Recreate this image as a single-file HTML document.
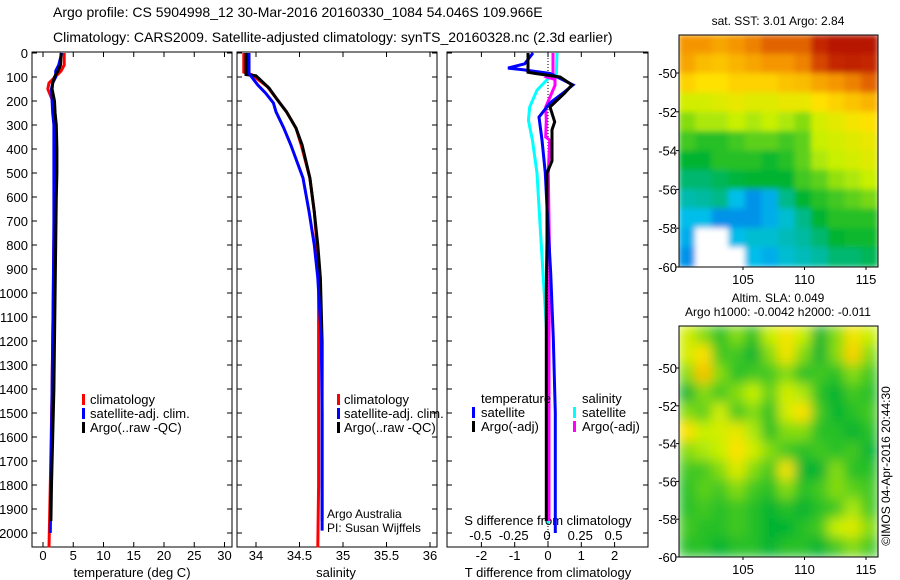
<!DOCTYPE html>
<html><head><meta charset="utf-8">
<style>
html,body{margin:0;padding:0;background:#fff;}
svg{display:block;font-family:"Liberation Sans",Arial,sans-serif;}
text{fill:#000;}
</style></head>
<body>
<svg id="chart" width="900" height="580" viewBox="0 0 900 580">
<defs>
<filter id="blurTop" x="0" y="0" width="1" height="1"><feGaussianBlur stdDeviation="3"/></filter>
<filter id="blurBot" x="0" y="0" width="1" height="1"><feGaussianBlur stdDeviation="6"/></filter>
<clipPath id="clipTop"><rect x="679" y="35" width="199" height="232"/></clipPath>
<clipPath id="clipBot"><rect x="679" y="326" width="199" height="231"/></clipPath>
</defs>
<text x="53" y="17" font-size="14">Argo profile: CS 5904998_12 30-Mar-2016 20160330_1084 54.046S 109.966E</text>
<text x="53" y="42" font-size="14">Climatology: CARS2009. Satellite-adjusted climatology: synTS_20160328.nc (2.3d earlier)</text>
<g id="layer"></g>
</svg>
<script>
// ---------- data ----------
const tDepth = [0,50,75,100,125,150,175,200,250,300,400,500,600,800,1000,1200,1400,1600,1800,1950];
const tArgo  = [3.0,2.9,2.5,1.9,1.6,1.5,1.7,1.9,2.0,2.2,2.3,2.3,2.2,2.1,2.0,1.9,1.8,1.6,1.4,1.3];
const tClimDepth = [0,50,75,100,125,150,175,200,250,300,400,600,800,1000,1400,1800,2060];
const tClim = [3.5,3.5,3.0,2.0,1.0,0.8,1.2,1.6,1.9,2.0,2.0,1.9,1.8,1.7,1.5,1.2,1.0];
const tSatDepth = [0,50,75,100,125,150,200,250,300,400,500,700,1000,1400,1800,2000];
const tSat = [3.1,2.6,2.1,2.1,1.6,1.4,1.5,1.6,1.8,1.8,1.8,1.8,1.7,1.5,1.3,1.2];

const sArgoDepth = [0,90,95,146,187,245,313,383,521,662,800,937,1200,1500,1800,1950];
const sArgo = [33.885,33.885,34.0,34.15,34.23,34.35,34.46,34.53,34.62,34.67,34.71,34.74,34.76,34.76,34.76,34.76];
const sClimDepth = [0,80,90,140,187,245,313,383,521,662,800,937,1200,1500,1800,2060];
const sClim = [33.86,33.86,33.95,34.13,34.23,34.35,34.46,34.52,34.62,34.67,34.70,34.72,34.72,34.72,34.72,34.71];
const sSatDepth = [0,85,100,133,167,208,245,313,383,521,662,800,937,1187,1500,1990];
const sSat = [33.92,33.92,33.95,34.02,34.11,34.2,34.23,34.32,34.40,34.54,34.61,34.67,34.71,34.75,34.76,34.76];

const dTsDepth = [0,45,63,70,85,133,167,208,267,363,500,642,917,1190,1500,2000];
const dTs = [-0.45,-0.7,-1.2,-0.75,0.06,0.75,0.45,0.06,-0.27,-0.18,-0.08,-0.03,0.08,0.16,0.22,0.22];
const dTaDepth = [0,80,85,100,133,167,225,287,320,363,450,500,780,1000,1500,1950];
const dTa = [-0.6,-0.6,-0.4,0.36,0.72,0.5,0.06,0.2,0.12,0.12,0.12,-0.03,-0.03,-0.05,-0.05,-0.05];
const dSsDepth = [0,90,100,155,225,280,363,500,642,780,917,1187,1500,1960];
const dSs = [0.075,0.07,0.02,-0.075,-0.13,-0.14,-0.11,-0.075,-0.06,-0.045,-0.03,0.0,0.008,0.008];
const dSaDepth = [0,85,100,110,135,200,225,280,350,363,500,900,1200,1950];
const dSa = [0.045,0.045,0.0,0.06,0.06,0.01,-0.01,-0.005,-0.01,0.02,0.01,0.02,0.015,0.015];

const depthTicks = [0,100,200,300,400,500,600,700,800,900,1000,1100,1200,1300,1400,1500,1600,1700,1800,1900,2000];
const tempTicks = [0,5,10,15,20,25,30];
const salTicks = [34,34.5,35,35.5,36];
const dTTicks = [-2,-1,0,1,2];
const dSTicks = [-0.5,-0.25,0,0.25,0.5];
const dSTickLabels = ["-0.5","-0.25","0","0.25","0.5"];
const latTicks = [-50,-52,-54,-56,-58,-60];
const lonTicks = [105,110,115];

const sstGrid = [
[.80,.80,.78,.80,.82,.85,.85,.85,.92,.95,.95,.95],
[.78,.75,.74,.76,.78,.80,.80,.82,.88,.92,.93,.92],
[.72,.70,.70,.72,.72,.72,.74,.75,.78,.80,.82,.85],
[.62,.62,.64,.66,.64,.64,.66,.66,.70,.72,.74,.76],
[.55,.58,.58,.60,.58,.60,.58,.55,.62,.65,.68,.70],
[.50,.48,.48,.50,.52,.52,.50,.52,.60,.62,.64,.66],
[.45,.45,.48,.48,.48,.46,.48,.52,.58,.60,.62,.64],
[.40,.40,.42,.44,.45,.45,.45,.50,.52,.56,.58,.60],
[.35,.36,.38,.30,.25,.28,.38,.45,.48,.50,.52,.54],
[.30,.30,.25,.25,.25,.28,.32,.38,.45,.48,.48,.48],
[.28,-1,-1,.30,.32,.32,.34,.36,.40,.45,.46,.46],
[.25,-1,-1,-1,.30,.28,.32,.34,.36,.40,.40,.42]];
const slaGrid = [
[.62,.55,.48,.55,.48,.60,.68,.60,.45,.55,.68,.60],
[.62,.70,.50,.50,.45,.55,.68,.55,.45,.55,.72,.55],
[.55,.74,.55,.48,.50,.50,.55,.48,.50,.48,.55,.50],
[.45,.55,.50,.55,.60,.52,.62,.58,.48,.45,.50,.48],
[.55,.52,.62,.50,.55,.48,.62,.70,.50,.45,.48,.50],
[.70,.60,.62,.66,.58,.48,.55,.55,.48,.48,.45,.48],
[.55,.58,.60,.70,.62,.55,.50,.48,.50,.48,.50,.45],
[.50,.50,.55,.64,.55,.50,.68,.45,.45,.55,.48,.48],
[.48,.52,.50,.55,.50,.48,.55,.48,.50,.55,.52,.50],
[.48,.50,.48,.50,.48,.45,.48,.45,.48,.50,.58,.50],
[.50,.48,.48,.50,.48,.45,.45,.48,.50,.60,.64,.55],
[.48,.48,.45,.48,.48,.45,.48,.48,.45,.50,.55,.50]];

// ---------- helpers ----------
const NS = "http://www.w3.org/2000/svg";
const layer = document.getElementById('layer');
function mk(tag, attrs, parent){ const e=document.createElementNS(NS,tag); for(const k in attrs) e.setAttribute(k,attrs[k]); (parent||layer).appendChild(e); return e; }
const yD = d => 53 + d*0.24;
const xT = t => 43 + t*6.05;
const xS = s => 256 + (s-34)*87;
const xdT = t => 548 + t*33.3;
const xdS = s => 547 + s*133;

function panel(x0,x1,name){
  const r = mk('rect',{x:x0,y:52,width:x1-x0,height:495,fill:'none',stroke:'#000','stroke-width':1});
  
  
  depthTicks.forEach(d=>{
    const y=yD(d);
    const a=mk('line',{x1:x0,x2:x0+5,y1:y,y2:y,stroke:'#000'});
    
    
    const b=mk('line',{x1:x1-5,x2:x1,y1:y,y2:y,stroke:'#000'});
    
    
  });
}
function xticks(xs, fn, labels, ylab, name){
  xs.forEach((v,i)=>{
    const x=fn(v);
    const a=mk('line',{x1:x,x2:x,y1:52,y2:57,stroke:'#000'});
    
    
    const b=mk('line',{x1:x,x2:x,y1:542,y2:547,stroke:'#000'});
    
    
    if(labels){
      const t=mk('text',{x:x,y:ylab,'font-size':13,'text-anchor':'middle'});
      t.textContent=labels[i];
      
      
    }
  });
}
function series(depths, vals, fn, color, name, w){
  const pts = depths.map((d,i)=>fn(vals[i]).toFixed(1)+','+yD(d).toFixed(1)).join(' ');
  const p = mk('polyline',{points:pts,fill:'none',stroke:color,'stroke-width':w||3,'stroke-linejoin':'miter'});
  
  
}
function label(x,y,txt,name,opts){
  const t=mk('text',Object.assign({x:x,y:y,'font-size':13},opts||{}));
  t.textContent=txt;
  
  
  return t;
}
function legMark(x,y,color,name){
  const r=mk('rect',{x:x,y:y-10,width:3,height:11,fill:color});
  
  
}

panel(32,232,'temperature-panel');
panel(237,437,'salinity-panel');
panel(447,648,'difference-panel');
depthTicks.forEach(d=>{
  label(28,yD(d)+5,String(d),'depth-tick-label',{'text-anchor':'end'});
});
xticks(tempTicks,xT,tempTicks.map(String),560,'temperature');
label(132,577,'temperature (deg C)','temperature-axis-title',{'text-anchor':'middle'});
series(tClimDepth,tClim,xT,'#ff0000','temp-climatology-line');
series(tSatDepth,tSat,xT,'#0000ff','temp-satellite-line');
series(tDepth,tArgo,xT,'#000000','temp-argo-line');
legMark(82,404,'#ff0000','legend-mark-climatology');
label(90,404,'climatology','legend-climatology');
legMark(82,418,'#0000ff','legend-mark-satellite');
label(90,418,'satellite-adj. clim.','legend-satellite');
legMark(82,432,'#000000','legend-mark-argo');
label(90,432,'Argo(..raw -QC)','legend-argo');

xticks(salTicks,xS,['34','34.5','35','35.5','36'],560,'salinity');
label(336,577,'salinity','salinity-axis-title',{'text-anchor':'middle'});
series(sClimDepth,sClim,xS,'#ff0000','sal-climatology-line');
series(sArgoDepth,sArgo,xS,'#000000','sal-argo-line');
series(sSatDepth,sSat,xS,'#0000ff','sal-satellite-line');
legMark(337,404,'#ff0000','legend-mark-climatology-2');
label(344,404,'climatology','legend-climatology-2');
legMark(337,418,'#0000ff','legend-mark-satellite-2');
label(344,418,'satellite-adj. clim.','legend-satellite-2');
legMark(337,432,'#000000','legend-mark-argo-2');
label(344,432,'Argo(..raw -QC)','legend-argo-2');
label(327,518,'Argo Australia','credit-argo-australia',{'font-size':12});
label(327,532,'PI: Susan Wijffels','credit-pi',{'font-size':12});

const zl = mk('line',{x1:548,x2:548,y1:52,y2:547,stroke:'#000','stroke-dasharray':'1,2'});


xticks(dTTicks,xdT,['-2','-1','0','1','2'],560,'t-difference');
dSTicks.forEach((v,i)=>{
  label(xdS(v),540,dSTickLabels[i],'s-difference-tick-label',{'text-anchor':'middle'});
});
label(548,525,'S difference from climatology','s-difference-axis-title',{'text-anchor':'middle'});
label(548,577,'T difference from climatology','t-difference-axis-title',{'text-anchor':'middle'});
series(dSsDepth,dSs,xdS,'#00ffff','dsal-satellite-line');
series(dSaDepth,dSa,xdS,'#ff00ff','dsal-argo-line');
series(dTsDepth,dTs,xdT,'#0000ff','dtemp-satellite-line');
series(dTaDepth,dTa,xdT,'#000000','dtemp-argo-line');
label(481,403,'temperature','legend-temperature-header');
legMark(472,417,'#0000ff','legend-mark-t-satellite');
label(481,417,'satellite','legend-t-satellite');
legMark(472,431,'#000000','legend-mark-t-argo');
label(481,431,'Argo(-adj)','legend-t-argo');
label(582,403,'salinity','legend-salinity-header');
legMark(573,417,'#00ffff','legend-mark-s-satellite');
label(582,417,'satellite','legend-s-satellite');
legMark(573,431,'#ff00ff','legend-mark-s-argo');
label(582,431,'Argo(-adj)','legend-s-argo');

const stops = [[0,[0,0,140]],[.15,[0,60,230]],[.3,[0,190,235]],[.45,[0,180,50]],[.6,[200,240,0]],[.7,[255,225,0]],[.8,[245,150,0]],[.9,[205,50,0]],[1,[160,0,0]]];
function cmap(v){
  if(v<0) return '#ffffff';
  for(let i=1;i<stops.length;i++){
    if(v<=stops[i][0]){
      const a=stops[i-1],b=stops[i],f=(v-a[0])/(b[0]-a[0]);
      const c=a[1].map((x,k)=>Math.round(x+(b[1][k]-x)*f));
      return 'rgb('+c.join(',')+')';
    }
  }
  return 'rgb(160,0,0)';
}
function map(grid,x0,y0,w,h,filter,clip,name,latY){
  const g=mk('g',{'clip-path':'url(#'+clip+')'});
  
  
  const inner=mk('g',{filter:'url(#'+filter+')'},g);
  const rows=grid.length, cols=grid[0].length, cw=w/cols, ch=h/rows;
  mk('rect',{x:x0,y:y0,width:w,height:h,fill:cmap(.5)},inner);
  grid.forEach((row,r)=>row.forEach((v,c)=>{
    const cell=mk('rect',{x:x0+c*cw-0.5,y:y0+r*ch-0.5,width:cw+1,height:ch+1,fill:cmap(v)},inner);
    
    
  }));
  const b=mk('rect',{x:x0,y:y0,width:w,height:h,fill:'none',stroke:'#000'});
  
  
  latTicks.forEach(l=>{
    const y=latY(l);
    const tk=mk('line',{x1:x0-3,x2:x0,y1:y,y2:y,stroke:'#000'});
    
    
    label(x0-2,y+5,String(l),'lat-tick-label',{'text-anchor':'end','font-size':13});
  });
  lonTicks.forEach(l=>{
    const x=743+(l-105)*12.3;
    const tk=mk('line',{x1:x,x2:x,y1:y0+h,y2:y0+h+3,stroke:'#000'});
    
    
    label(x,y0+h+17,String(l),'lon-tick-label',{'text-anchor':'middle'});
  });
}
map(sstGrid,679,35,199,232,'blurTop','clipTop','sst-map',l=>73+(-50-l)*19.4);
map(slaGrid,679,326,199,231,'blurBot','clipBot','sla-map',l=>368+(-50-l)*18.9);
label(778,25,'sat. SST: 3.01  Argo: 2.84','sst-map-title',{'text-anchor':'middle','font-size':12});
label(778,302,'Altim. SLA: 0.049','sla-map-title',{'text-anchor':'middle','font-size':12});
label(778,316,'Argo h1000: -0.0042 h2000: -0.011','sla-map-subtitle',{'text-anchor':'middle','font-size':12});
label(0,0,'©IMOS 04-Apr-2016 20:44:30','imos-timestamp',{'text-anchor':'middle','font-size':12,transform:'translate(890,466) rotate(-90)'});
</script>
</body></html>
